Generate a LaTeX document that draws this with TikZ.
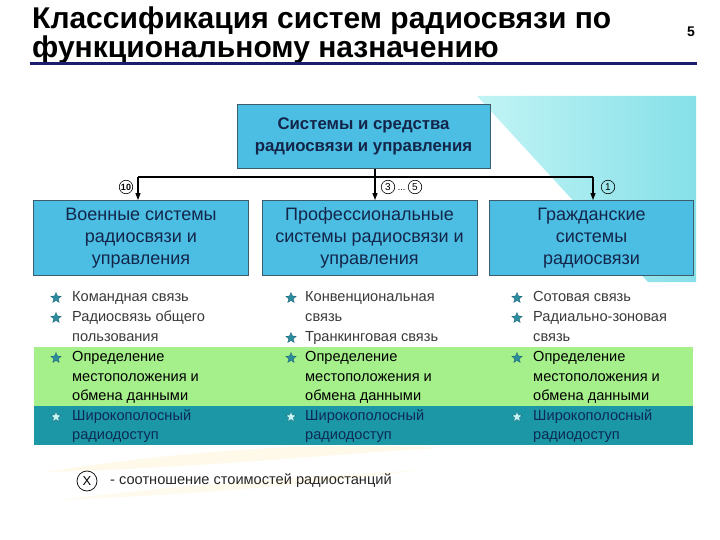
\documentclass[tikz,border=0pt]{standalone}
\usepackage{fontspec}
\setmainfont{Liberation Sans}
\usetikzlibrary{arrows.meta,shapes.geometric}
\definecolor{boxblue}{HTML}{4CBEE3}
\definecolor{boxedge}{HTML}{3D5C6B}
\definecolor{boxtext}{HTML}{14254A}
\definecolor{navyline}{HTML}{1C1C6E}
\definecolor{bandgreen}{HTML}{A6F08C}
\definecolor{bandteal}{HTML}{1B97A5}
\definecolor{starc}{HTML}{2B8C9E}
\definecolor{bodytext}{HTML}{3A3A3A}
\definecolor{tealtext}{HTML}{0E2A55}
\definecolor{cyanA}{HTML}{C2F4F5}
\definecolor{cyanB}{HTML}{86E0E8}
\definecolor{swoosh}{HTML}{FFF3CF}
\tikzset{
  sysbox/.style={draw=boxedge, line width=0.9pt, fill=boxblue, text=boxtext, align=center, inner sep=0pt},
  topfont/.style={font=\fontsize{16.8}{22}\selectfont\bfseries},
  subfont/.style={font=\fontsize{18}{22}\selectfont},
  arr/.style={-{Triangle[length=7pt,width=5pt]}, line width=1.1pt, black},
  conn/.style={line width=1.1pt, black},
  starmark/.style={star, star points=5, star point ratio=2.2, fill=starc, draw=starc!70!black, line width=0.3pt, minimum size=11pt, inner sep=0pt},
  item/.style={anchor=west, inner sep=0pt, text height=10.5pt, text depth=3pt, font=\fontsize{14.6}{16}\selectfont, text=bodytext},
  gitem/.style={item, text=black},
  titem/.style={item, text=tealtext},
  cnum/.style={circle, draw=black, line width=0.6pt, inner sep=0pt, minimum size=13.5pt, font=\fontsize{10}{10}\selectfont}
}
\begin{document}
\begin{tikzpicture}[x=1pt,y=-1pt]
\useasboundingbox (0,0) rectangle (720,540);
\fill[white] (0,0) rectangle (720,540);
% background decorations
\shade[left color=cyanA, right color=cyanB] (477,96) -- (696,96) -- (696,282) -- (648,282) -- cycle;
\fill[swoosh, opacity=0.45] (45,472) .. controls (200,448) and (330,442) .. (440,448) .. controls (330,454) and (200,468) .. (45,472) -- cycle;
\fill[swoosh, opacity=0.35] (60,500) .. controls (200,482) and (300,478) .. (420,470) .. controls (300,486) and (200,494) .. (60,500) -- cycle;
% title
\node[anchor=north west, inner sep=0pt, align=left, font=\fontsize{30}{27}\selectfont\bfseries] (title) at (32,6.5) {Классификация систем радиосвязи по\\функциональному назначению};
\node[inner sep=0pt, font=\fontsize{14}{14}\selectfont\bfseries] (pg) at (691,32) {5};
\draw[navyline, line width=3pt] (30,63.5) -- (697,63.5);
% bands
\fill[bandgreen] (34,347) rectangle (693,406);
\fill[bandteal] (34,406) rectangle (693,445);
% boxes
\node[sysbox, topfont, minimum width=253pt, minimum height=64pt] (top) at (363.5,136.5) {Системы и средства\\радиосвязи и управления};
\node[sysbox, subfont, minimum width=215pt, minimum height=75pt] (mil) at (141,238) {Военные системы\\радиосвязи и\\управления};
\node[sysbox, subfont, minimum width=215pt, minimum height=75pt] (prof) at (369.5,238) {Профессиональные\\системы радиосвязи и\\управления};
\node[sysbox, subfont, minimum width=204pt, minimum height=75pt] (civ) at (591.5,238) {Гражданские\\системы\\радиосвязи};
% connectors
\coordinate (jl) at (138,177);
\coordinate (jm) at (375,177);
\coordinate (jr) at (593,177);
\draw[conn] (jl) -- (jr);
\draw[arr] (top.south -| jm) -- (jm |- prof.north);
\draw[arr] (jl) -- (jl |- mil.north);
\draw[arr] (jr) -- (jr |- civ.north);
% cost labels
\node[cnum, font=\fontsize{9}{9}\selectfont\bfseries] (c10) at (126,187) {10};
\node[cnum] (c3) at (388,187) {3};
\node[inner sep=0pt, font=\fontsize{9}{9}\selectfont] (cdots) at (401.5,190) {...};
\node[cnum] (c5) at (415,187) {5};
\node[cnum] (c1) at (608,187) {1};
% left column
\node[starmark] (sl1) at (56,298) {};
\node[item] (l1) at (72,298) {Командная связь};
\node[starmark] (sl2) at (56,318) {};
\node[item] (l2) at (72,318) {Радиосвязь общего};
\node[item] (l3) at (72,338) {пользования};
\node[starmark] (sl4) at (56,358) {};
\node[gitem] (l4) at (72,358) {Определение};
\node[gitem] (l5) at (72,378) {местоположения и};
\node[gitem] (l6) at (72,397) {обмена данными};
\node[starmark, fill=cyanA] (sl7) at (56,417) {};
\node[titem] (l7) at (72,417) {Широкополосный};
\node[titem] (l8) at (72,436) {радиодоступ};
% middle column
\node[starmark] (sm1) at (291,298) {};
\node[item] (m1) at (305,298) {Конвенциональная};
\node[item] (m2) at (305,318) {связь};
\node[starmark] (sm3) at (291,338) {};
\node[item] (m3) at (305,338) {Транкинговая связь};
\node[starmark] (sm4) at (291,358) {};
\node[gitem] (m4) at (305,358) {Определение};
\node[gitem] (m5) at (305,378) {местоположения и};
\node[gitem] (m6) at (305,397) {обмена данными};
\node[starmark, fill=cyanA] (sm7) at (291,417) {};
\node[titem] (m7) at (305,417) {Широкополосный};
\node[titem] (m8) at (305,436) {радиодоступ};
% right column
\node[starmark] (sr1) at (517,298) {};
\node[item] (r1) at (533,298) {Сотовая связь};
\node[starmark] (sr2) at (517,318) {};
\node[item] (r2) at (533,318) {Радиально-зоновая};
\node[item] (r3) at (533,338) {связь};
\node[starmark] (sr4) at (517,358) {};
\node[gitem] (r4) at (533,358) {Определение};
\node[gitem] (r5) at (533,378) {местоположения и};
\node[gitem] (r6) at (533,397) {обмена данными};
\node[starmark, fill=cyanA] (sr7) at (517,417) {};
\node[titem] (r7) at (533,417) {Широкополосный};
\node[titem] (r8) at (533,436) {радиодоступ};
% legend
\node[circle, draw=black, line width=0.7pt, minimum size=20pt, inner sep=0pt, font=\fontsize{13}{13}\selectfont] (lx) at (87,481) {X};
\node[item, text=black!85] (lt) at (110,481) {- соотношение стоимостей радиостанций};
\end{tikzpicture}
\end{document}
